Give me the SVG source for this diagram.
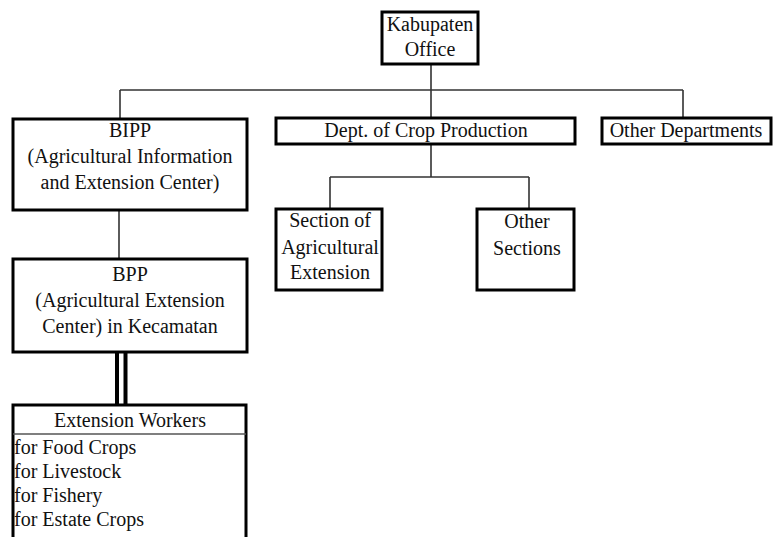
<svg xmlns="http://www.w3.org/2000/svg" width="778" height="537" viewBox="0 0 778 537">
  <style>
    .box { fill: #ffffff; stroke: #000000; stroke-width: 3; }
    text { font-family: 'Liberation Serif', Tinos, 'Times New Roman', Times, 'DejaVu Serif', serif; font-size: 20px; fill: #111111; }
    .lbl { text-anchor: middle; }
    .conn { stroke: #333333; stroke-width: 1.6; fill: none; }
    .dbl { stroke: #000000; stroke-width: 4; fill: none; }
  </style>
  <rect width="778" height="537" fill="#ffffff"/>

  <!-- connectors -->
  <g id="connectors">
    <path class="conn" d="M431 64 V90 M120 90 H683 M120 90 V119 M431 90 V118 M683 90 V118"/>
    <path class="conn" d="M119 210 V258"/>
    <path class="conn" d="M431 144 V177 M330 177 H529 M330 177 V209 M529 177 V209"/>
    <path class="dbl" d="M117 352 V405 M125.5 352 V405"/>
  </g>

  <g id="kabupaten">
    <rect class="box" x="382" y="12" width="96" height="52"/>
    <text class="lbl" x="430" y="31">Kabupaten</text>
    <text class="lbl" x="430" y="56">Office</text>
  </g>

  <g id="bipp">
    <rect class="box" x="13" y="119" width="234" height="91"/>
    <text class="lbl" x="130" y="137">BIPP</text>
    <text class="lbl" x="130" y="163">(Agricultural Information</text>
    <text class="lbl" x="130" y="189">and Extension Center)</text>
  </g>

  <g id="bpp">
    <rect class="box" x="13" y="259" width="234" height="93"/>
    <text class="lbl" x="130" y="281">BPP</text>
    <text class="lbl" x="130" y="307">(Agricultural Extension</text>
    <text class="lbl" x="130" y="333">Center) in Kecamatan</text>
  </g>

  <g id="extension-workers">
    <path d="M13 545 V405 H246 V545" fill="#ffffff" stroke="#000000" stroke-width="3"/>
    <line x1="13" y1="434" x2="246" y2="434" stroke="#555555" stroke-width="1.5"/>
    <text class="lbl" x="130" y="427">Extension Workers</text>
    <text x="14" y="454">for Food Crops</text>
    <text x="14" y="478">for Livestock</text>
    <text x="14" y="502">for Fishery</text>
    <text x="14" y="526">for Estate Crops</text>
  </g>

  <g id="dept-crop">
    <rect class="box" x="276" y="118" width="299" height="26"/>
    <text class="lbl" x="426" y="137">Dept. of Crop Production</text>
  </g>

  <g id="other-departments">
    <rect class="box" x="602" y="118" width="169" height="26"/>
    <text class="lbl" x="686" y="137">Other Departments</text>
  </g>

  <g id="section-extension">
    <rect class="box" x="276" y="209" width="106" height="81"/>
    <text class="lbl" x="330" y="227">Section of</text>
    <text class="lbl" x="330" y="254">Agricultural</text>
    <text class="lbl" x="330" y="279">Extension</text>
  </g>

  <g id="other-sections">
    <rect class="box" x="477" y="209" width="97" height="81"/>
    <text class="lbl" x="527" y="228">Other</text>
    <text class="lbl" x="527" y="255">Sections</text>
  </g>
</svg>
